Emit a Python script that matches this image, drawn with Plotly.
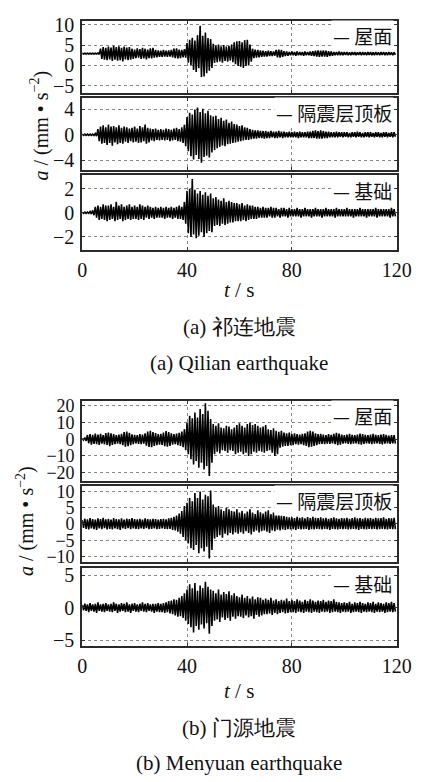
import plotly.graph_objects as go

# ---------------------------------------------------------------------------
# Peak acceleration per 1-s bin (mm/s^2): positive peak then negative peak,
# relative to each record's baseline. Time axis 0-120 s.
# ---------------------------------------------------------------------------
seconds = list(range(120))

# (a) Qilian earthquake
qilian_roof_base = 2.9
qilian_roof_up = [
    0.1, 0.1, 0.1, 0.1, 0.1, 0.1, 0.2, 1.2, 1.6, 1.4,
    1.7, 1.5, 1.9, 1.6, 1.8, 1.4, 1.7, 1.5, 1.6, 1.2,
    1.0, 1.3, 1.1, 1.4, 1.2, 1.0, 1.3, 1.4, 0.9, 0.8,
    0.7, 0.9, 0.7, 0.8, 0.9, 1.2, 1.3, 1.0, 0.9, 1.1,
    2.6, 3.4, 3.9, 3.2, 4.5, 6.8, 4.4, 5.2, 3.8, 3.6,
    2.4, 2.0, 2.2, 1.8, 2.1, 1.7, 1.9, 2.2, 2.8, 3.0,
    3.1, 2.8, 3.3, 3.4, 2.2, 1.2, 1.0, 0.9, 0.8, 0.7,
    0.6, 0.7, 0.6, 0.5, 0.9, 1.0, 0.9, 0.6, 0.5, 0.4,
    0.5, 0.4, 0.5, 0.4, 0.4, 0.5, 0.4, 0.5, 0.6, 0.7,
    0.8, 0.7, 0.8, 0.7, 0.6, 0.5, 0.4, 0.4, 0.5, 0.4,
    0.4, 0.4, 0.3, 0.4, 0.4, 0.3, 0.4, 0.4, 0.3, 0.4,
    0.4, 0.3, 0.4, 0.3, 0.4, 0.4, 0.3, 0.4, 0.3, 0.3,
]
qilian_roof_down = [
    -0.1, -0.1, -0.1, -0.1, -0.1, -0.1, -0.2, -1.3, -1.5, -1.6,
    -1.4, -1.8, -1.5, -1.7, -1.6, -1.9, -1.4, -1.6, -1.5, -1.3,
    -1.1, -1.0, -1.3, -1.2, -1.4, -1.1, -1.2, -1.0, -0.9, -0.8,
    -0.8, -0.7, -0.8, -0.7, -0.9, -1.1, -1.2, -1.1, -0.9, -1.0,
    -2.2, -2.8, -4.0, -4.5, -3.6, -5.7, -5.6, -4.8, -4.2, -3.5,
    -2.3, -2.1, -1.9, -2.2, -1.8, -2.0, -1.7, -2.1, -2.6, -3.0,
    -3.2, -3.5, -3.0, -2.9, -2.0, -1.1, -1.0, -0.9, -0.8, -0.7,
    -0.7, -0.6, -0.6, -0.5, -0.9, -1.0, -0.8, -0.6, -0.5, -0.4,
    -0.4, -0.5, -0.4, -0.4, -0.5, -0.4, -0.4, -0.5, -0.6, -0.7,
    -0.8, -0.7, -0.7, -0.8, -0.6, -0.5, -0.4, -0.4, -0.4, -0.4,
    -0.3, -0.4, -0.4, -0.3, -0.4, -0.3, -0.4, -0.3, -0.4, -0.3,
    -0.4, -0.4, -0.3, -0.4, -0.3, -0.4, -0.4, -0.3, -0.4, -0.3,
]

qilian_isol_base = 0.0
qilian_isol_up = [
    0.1, 0.1, 0.1, 0.1, 0.1, 0.2, 0.9, 1.3, 1.5, 1.2,
    1.6, 1.3, 1.4, 1.2, 1.5, 1.1, 1.3, 1.2, 1.0, 1.1,
    1.3, 1.0, 1.4, 1.2, 1.6, 1.1, 1.0, 0.9, 1.0, 0.8,
    0.9, 0.8, 1.0, 0.9, 0.8, 1.0, 1.1, 0.9, 1.2, 1.6,
    2.8, 3.5, 3.2, 4.0, 4.3, 3.6, 4.1, 3.4, 3.8, 3.1,
    2.9, 3.0, 2.5, 2.7, 2.2, 2.4, 1.9, 2.1, 1.7, 1.6,
    1.4, 1.5, 1.2, 1.1, 0.9, 0.8, 0.7, 0.7, 0.6, 0.6,
    0.6, 0.5, 0.6, 0.5, 0.5, 0.6, 0.5, 0.5, 0.4, 0.5,
    0.4, 0.5, 0.4, 0.5, 0.4, 0.4, 0.5, 0.5, 0.6, 0.7,
    0.6, 0.7, 0.6, 0.5, 0.5, 0.4, 0.4, 0.5, 0.4, 0.4,
    0.4, 0.4, 0.3, 0.4, 0.4, 0.5, 0.4, 0.3, 0.4, 0.4,
    0.4, 0.3, 0.4, 0.4, 0.3, 0.4, 0.4, 0.3, 0.4, 0.4,
]
qilian_isol_down = [
    -0.1, -0.1, -0.1, -0.1, -0.1, -0.2, -1.0, -1.4, -1.3, -1.6,
    -1.3, -1.7, -1.2, -1.5, -1.3, -1.4, -1.1, -1.3, -1.0, -1.2,
    -1.1, -1.3, -1.2, -1.0, -1.4, -1.2, -0.9, -1.0, -0.8, -0.9,
    -0.8, -0.9, -0.8, -1.0, -0.9, -0.8, -1.0, -1.1, -1.3, -1.8,
    -2.6, -3.4, -3.9, -3.2, -3.8, -4.4, -3.5, -3.3, -3.6, -2.8,
    -2.4, -2.1, -1.9, -1.7, -1.8, -1.5, -1.4, -1.3, -1.2, -1.1,
    -1.0, -0.9, -0.8, -0.8, -0.7, -0.6, -0.6, -0.5, -0.5, -0.6,
    -0.5, -0.5, -0.4, -0.5, -0.5, -0.4, -0.5, -0.4, -0.4, -0.4,
    -0.4, -0.4, -0.5, -0.4, -0.4, -0.4, -0.5, -0.5, -0.5, -0.6,
    -0.6, -0.6, -0.5, -0.5, -0.4, -0.4, -0.4, -0.4, -0.3, -0.4,
    -0.3, -0.4, -0.4, -0.3, -0.4, -0.3, -0.4, -0.4, -0.3, -0.4,
    -0.3, -0.4, -0.3, -0.4, -0.4, -0.3, -0.4, -0.3, -0.4, -0.3,
]

qilian_base_base = 0.0
qilian_base_up = [
    0.05, 0.05, 0.05, 0.1, 0.2, 0.5, 0.6, 0.5, 0.7, 0.6,
    0.6, 0.7, 0.5, 0.9, 0.6, 0.7, 0.5, 0.6, 0.7, 0.5,
    0.6, 0.5, 0.7, 0.6, 0.5, 0.6, 0.5, 0.4, 0.5, 0.4,
    0.5, 0.4, 0.5, 0.4, 0.5, 0.4, 0.5, 0.6, 0.5, 0.9,
    1.8, 2.0, 2.8, 1.9, 1.6, 1.8, 1.5, 1.7, 1.4, 1.6,
    1.2, 1.3, 1.1, 1.0, 1.2, 0.9, 1.0, 0.9, 0.8, 0.8,
    0.7, 0.8, 0.6, 0.7, 0.6, 0.6, 0.5, 0.5, 0.4, 0.5,
    0.4, 0.4, 0.5, 0.4, 0.4, 0.3, 0.4, 0.4, 0.3, 0.4,
    0.3, 0.3, 0.4, 0.3, 0.3, 0.4, 0.3, 0.3, 0.3, 0.4,
    0.3, 0.3, 0.3, 0.4, 0.3, 0.3, 0.3, 0.4, 0.3, 0.3,
    0.3, 0.4, 0.3, 0.3, 0.3, 0.3, 0.4, 0.3, 0.3, 0.3,
    0.3, 0.3, 0.4, 0.3, 0.3, 0.3, 0.3, 0.3, 0.4, 0.3,
]
qilian_base_down = [
    -0.05, -0.05, -0.05, -0.1, -0.2, -0.4, -0.6, -0.5, -0.6, -0.7,
    -0.6, -0.5, -0.7, -0.6, -0.5, -0.7, -0.6, -0.5, -0.6, -0.5,
    -0.5, -0.6, -0.5, -0.6, -0.4, -0.5, -0.4, -0.5, -0.4, -0.4,
    -0.4, -0.5, -0.4, -0.4, -0.5, -0.4, -0.5, -0.5, -0.6, -0.9,
    -1.7, -2.0, -1.8, -2.1, -1.9, -1.6, -2.0, -1.7, -1.5, -1.6,
    -1.1, -1.0, -1.1, -0.9, -1.0, -0.9, -0.8, -0.8, -0.7, -0.7,
    -0.7, -0.6, -0.7, -0.6, -0.5, -0.5, -0.5, -0.4, -0.4, -0.4,
    -0.4, -0.3, -0.4, -0.4, -0.3, -0.4, -0.3, -0.3, -0.4, -0.3,
    -0.3, -0.3, -0.3, -0.4, -0.3, -0.3, -0.3, -0.4, -0.3, -0.3,
    -0.3, -0.4, -0.3, -0.3, -0.3, -0.3, -0.4, -0.3, -0.3, -0.3,
    -0.3, -0.3, -0.3, -0.4, -0.3, -0.3, -0.3, -0.3, -0.4, -0.3,
    -0.3, -0.3, -0.4, -0.3, -0.3, -0.3, -0.3, -0.4, -0.3, -0.3,
]

# (b) Menyuan earthquake
menyuan_roof_base = 0.0
menyuan_roof_up = [
    0.5, 1.0, 2.5, 3.0, 2.6, 3.4, 2.8, 3.2, 2.4, 3.6,
    4.0, 3.5, 3.0, 2.5, 2.8, 3.2, 4.2, 4.6, 3.8, 2.9,
    2.6, 2.4, 3.0, 2.8, 3.5, 4.5, 5.0, 4.2, 3.6, 3.0,
    3.2, 4.0, 4.8, 4.2, 3.5, 3.0, 3.4, 3.8, 4.6, 6.0,
    10.0, 14.0, 12.5, 16.0, 13.0, 18.0, 15.0, 21.5, 17.0, 12.0,
    9.0, 8.0, 9.5, 7.0, 6.5, 8.0, 7.5, 6.0, 7.0, 8.5,
    9.5, 8.0, 7.0, 9.0, 10.0, 8.5, 9.0, 8.0, 7.0, 7.5,
    8.5, 6.0, 5.5, 6.5, 5.0, 4.5, 5.0, 4.0, 3.5, 4.0,
    3.0, 3.5, 3.0, 2.8, 3.2, 3.5, 4.5, 5.0, 4.5, 3.5,
    3.0, 3.2, 2.8, 2.5, 3.0, 2.6, 3.2, 3.8, 3.4, 2.8,
    2.5, 2.8, 3.2, 2.6, 2.4, 2.8, 3.4, 3.0, 2.6, 2.4,
    2.8, 3.2, 2.6, 2.4, 2.8, 3.0, 2.6, 2.2, 2.4, 2.5,
]
menyuan_roof_down = [
    -0.5, -1.0, -2.4, -3.2, -2.8, -3.0, -3.4, -2.6, -3.0, -3.4,
    -4.2, -3.4, -3.0, -2.6, -3.0, -3.5, -4.4, -4.2, -3.6, -3.0,
    -2.5, -2.8, -3.0, -2.6, -3.8, -4.6, -4.8, -4.0, -3.5, -3.2,
    -3.4, -4.2, -4.4, -4.0, -3.2, -3.0, -3.6, -4.0, -4.8, -6.5,
    -9.0, -12.0, -15.0, -13.0, -17.0, -14.0, -18.0, -16.0, -22.0, -14.0,
    -9.0, -7.5, -8.5, -6.5, -7.0, -8.0, -6.5, -7.0, -9.0, -8.0,
    -7.5, -9.0, -8.0, -10.0, -9.0, -7.5, -8.0, -7.0, -7.5, -8.0,
    -7.0, -6.5, -8.0, -10.0, -9.0, -5.0, -4.5, -4.0, -4.0, -3.5,
    -3.5, -3.0, -3.2, -3.0, -3.5, -4.0, -4.8, -4.5, -4.0, -3.5,
    -3.0, -2.8, -3.0, -2.6, -2.8, -2.5, -3.0, -3.5, -3.2, -2.6,
    -2.4, -2.8, -3.0, -2.6, -2.5, -3.0, -3.2, -2.8, -2.5, -2.6,
    -3.0, -2.7, -2.4, -2.8, -3.1, -2.6, -2.4, -2.8, -2.5, -2.6,
]

menyuan_isol_base = 0.0
menyuan_isol_up = [
    1.2, 1.6, 1.4, 1.8, 1.5, 1.3, 1.7, 1.5, 1.9, 1.4,
    1.6, 1.3, 1.8, 1.5, 1.4, 1.7, 1.3, 1.6, 1.5, 1.8,
    1.5, 1.4, 1.6, 1.3, 1.7, 1.5, 1.4, 1.6, 1.5, 1.3,
    1.5, 1.6, 1.4, 1.7, 1.9, 2.2, 2.6, 3.2, 4.0, 5.5,
    6.5, 8.0, 7.0, 9.5, 8.0, 10.0, 7.5, 9.0, 8.5, 10.3,
    6.0, 5.0, 5.5, 4.5, 4.0, 5.0, 4.5, 4.0, 3.8, 4.5,
    3.5, 4.0, 3.2, 3.8, 4.5, 3.5, 3.0, 4.2, 3.6, 3.2,
    3.8, 4.2, 3.0, 3.5, 2.8, 3.2, 2.6, 2.4, 2.2, 2.0,
    2.0, 1.8, 2.2, 1.9, 2.0, 1.7, 2.1, 1.8, 2.2, 1.9,
    1.8, 2.0, 1.7, 1.9, 1.6, 1.8, 2.0, 1.7, 1.6, 1.8,
    1.7, 1.9, 1.6, 1.8, 2.0, 1.7, 1.8, 1.6, 1.9, 1.7,
    1.8, 1.6, 1.9, 1.7, 1.8, 2.0, 1.6, 1.8, 1.7, 1.9,
]
menyuan_isol_down = [
    -1.2, -1.5, -1.7, -1.4, -1.6, -1.8, -1.4, -1.6, -1.3, -1.7,
    -1.5, -1.7, -1.4, -1.6, -1.8, -1.4, -1.5, -1.3, -1.6, -1.4,
    -1.5, -1.6, -1.4, -1.5, -1.3, -1.6, -1.5, -1.4, -1.6, -1.5,
    -1.4, -1.5, -1.6, -1.5, -1.8, -2.0, -2.4, -3.0, -4.0, -5.0,
    -6.0, -7.5, -8.0, -6.5, -9.0, -7.5, -8.5, -7.0, -10.6, -8.0,
    -4.5, -4.0, -3.5, -4.2, -3.0, -3.5, -2.8, -3.2, -2.6, -3.0,
    -2.5, -3.0, -2.2, -2.8, -3.2, -2.4, -2.0, -2.6, -2.2, -2.0,
    -2.4, -2.8, -2.0, -2.2, -1.8, -2.0, -1.7, -1.8, -1.6, -1.7,
    -1.6, -1.8, -1.5, -1.7, -1.6, -1.5, -1.8, -1.6, -1.7, -1.5,
    -1.6, -1.7, -1.5, -1.6, -1.8, -1.5, -1.6, -1.7, -1.5, -1.6,
    -1.5, -1.7, -1.6, -1.5, -1.6, -1.8, -1.5, -1.6, -1.7, -1.5,
    -1.6, -1.5, -1.7, -1.6, -1.5, -1.6, -1.7, -1.5, -1.6, -1.6,
]

menyuan_base_base = 0.0
menyuan_base_up = [
    0.4, 0.6, 0.5, 0.7, 0.5, 0.6, 0.8, 0.5, 0.6, 0.7,
    0.5, 0.6, 0.8, 0.6, 0.5, 0.7, 0.6, 0.8, 0.5, 0.6,
    0.7, 0.5, 0.6, 0.8, 0.6, 0.7, 0.5, 0.6, 0.6, 0.7,
    0.6, 0.7, 0.8, 1.0, 1.1, 1.3, 1.2, 1.5, 1.8, 2.2,
    2.8, 3.6, 3.0, 3.8, 2.6, 3.4, 3.0, 4.0, 3.2, 2.8,
    2.6, 2.2, 2.8, 2.0, 2.4, 2.1, 2.5, 1.9, 2.2, 1.8,
    1.6, 2.0, 1.5, 1.8, 1.4, 1.7, 1.3, 1.6, 1.5, 1.2,
    1.4, 1.2, 1.5, 1.1, 1.3, 1.0, 1.2, 1.1, 1.4, 1.0,
    1.2, 1.0, 1.3, 1.1, 0.9, 1.2, 1.0, 1.3, 1.1, 0.9,
    1.1, 1.0, 1.2, 0.9, 1.1, 1.0, 1.3, 0.9, 0.8, 0.7,
    0.8, 0.7, 0.9, 0.6, 0.8, 0.7, 0.9, 0.7, 0.6, 0.8,
    0.7, 0.9, 0.6, 0.8, 0.7, 0.6, 0.8, 0.7, 0.9, 0.7,
]
menyuan_base_down = [
    -0.4, -0.5, -0.7, -0.5, -0.6, -0.8, -0.5, -0.6, -0.7, -0.5,
    -0.6, -0.7, -0.5, -0.8, -0.6, -0.5, -0.7, -0.6, -0.8, -0.5,
    -0.6, -0.7, -0.5, -0.6, -0.7, -0.5, -0.6, -0.8, -0.6, -0.7,
    -0.7, -0.8, -0.7, -0.9, -1.0, -1.2, -1.4, -1.3, -1.6, -2.0,
    -2.5, -3.0, -3.8, -2.8, -3.4, -2.6, -3.2, -2.4, -4.0, -2.8,
    -2.0, -1.8, -2.2, -1.5, -1.9, -1.6, -2.0, -1.4, -1.7, -1.3,
    -1.4, -1.6, -1.2, -1.5, -1.3, -1.7, -1.1, -1.4, -1.2, -1.0,
    -1.0, -0.9, -1.1, -0.8, -1.0, -0.8, -0.7, -0.9, -0.8, -0.7,
    -0.7, -0.8, -0.6, -0.7, -0.8, -0.6, -0.7, -0.8, -0.6, -0.7,
    -0.8, -0.6, -0.7, -0.6, -0.8, -0.7, -0.6, -0.7, -0.8, -0.6,
    -0.7, -0.6, -0.8, -0.7, -0.6, -0.7, -0.8, -0.6, -0.7, -0.6,
    -0.7, -0.8, -0.6, -0.7, -0.6, -0.8, -0.7, -0.6, -0.7, -0.6,
]

legend_names = ["屋面", "隔震层顶板", "基础"]
x_ticks = [0, 40, 80, 120]

# per-panel settings: (up, down, baseline, y range, y ticks, tick font size, legend)
records = [
    (qilian_roof_up, qilian_roof_down, qilian_roof_base, [-6.67, 10.95], [-5, 0, 5, 10], 20, legend_names[0]),
    (qilian_isol_up, qilian_isol_down, qilian_isol_base, [-5.63, 5.88], [-4, 0, 4], 20, legend_names[1]),
    (qilian_base_up, qilian_base_down, qilian_base_base, [-3.1, 3.1], [-2, 0, 2], 20, legend_names[2]),
    (menyuan_roof_up, menyuan_roof_down, menyuan_roof_base, [-24.7, 22.9], [-20, -10, 0, 10, 20], 18, legend_names[0]),
    (menyuan_isol_up, menyuan_isol_down, menyuan_isol_base, [-11.8, 11.8], [-10, -5, 0, 5, 10], 18, legend_names[1]),
    (menyuan_base_up, menyuan_base_down, menyuan_base_base, [-5.9, 6.06], [-5, 0, 5], 20, legend_names[2]),
]

# ---------------------------------------------------------------------------
# Layout geometry (pixels in a 426 x 782 page)
# ---------------------------------------------------------------------------
W, H = 426, 782
PLOT_LEFT, PLOT_RIGHT = 81, 411
panel_px = [(14, 87), (92, 166), (171, 247), (400, 481), (486, 564), (570, 649)]


def px_x(v):
    return v / W


def px_y(v):
    return 1 - v / H


SERIF = "Liberation Serif"
CJK = "Noto Sans CJK SC"
INK = "#111111"

fig = go.Figure()

for k, (up, down, base, yr, yt, tsize, name) in enumerate(records, start=1):
    xs, ys = [], []
    for t, hi, lo in zip(seconds, up, down):
        xs += [t, t + 0.5]
        ys += [base + hi, base + lo]
    suffix = "" if k == 1 else str(k)
    fig.add_trace(go.Scatter(
        x=xs, y=ys, mode="lines", line=dict(color="black", width=1.6),
        xaxis="x" + suffix, yaxis="y" + suffix, showlegend=False,
        hoverinfo="skip",
    ))
    top, bottom = panel_px[k - 1]
    show_x = k in (3, 6)
    axis_common = dict(
        showline=True, linecolor="#2a2a2a", linewidth=2, mirror="ticks",
        ticks="inside", ticklen=3, tickcolor="#333", tickwidth=1,
        showgrid=True, gridcolor="#888", gridwidth=1, griddash="dot",
        zeroline=False, fixedrange=True,
    )
    fig.update_layout({
        "xaxis" + suffix: dict(
            axis_common, domain=[px_x(PLOT_LEFT), px_x(PLOT_RIGHT)],
            range=[0, 120], tickvals=x_ticks, showticklabels=show_x,
            anchor="y" + suffix, ticklabelstandoff=1,
            tickfont=dict(family=SERIF, size=20, color=INK),
        ),
        "yaxis" + suffix: dict(
            axis_common, domain=[px_y(bottom), px_y(top)],
            range=yr, tickvals=yt, anchor="x" + suffix,
            ticklabelstandoff=2,
            tickfont=dict(family=SERIF, size=tsize, color=INK),
        ),
    })
    # legend entry: a short line sample followed by the record name
    fig.add_annotation(
        x=px_x(PLOT_RIGHT - 3), y=px_y(top + 15), xref="paper", yref="paper",
        xanchor="right", yanchor="middle", showarrow=False,
        text="— " + name, bgcolor="white", borderpad=1,
        font=dict(family=CJK, size=19, color=INK),
    )

# axis titles and captions
y_title = "<i>a</i> / (mm • s<sup>−2</sup>)"
for xc, yc in ((36, 120), (22, 522)):
    fig.add_annotation(
        x=px_x(xc), y=px_y(yc), xref="paper", yref="paper", textangle=-90,
        xanchor="center", yanchor="middle",
        showarrow=False, text=y_title, font=dict(family=SERIF, size=20, color=INK),
    )

captions = [
    (287, "<i>t</i> / s", SERIF, 21),
    (325, "(a) 祁连地震", SERIF, 21),
    (362, "(a) Qilian earthquake", SERIF, 21),
    (695, "<i>t</i> / s", SERIF, 21),
    (732, "(b) 门源地震", SERIF, 21),
    (768, "(b) Menyuan earthquake", SERIF, 21),
]
for yc, txt, fam, size in captions:
    fig.add_annotation(
        x=px_x((PLOT_LEFT + PLOT_RIGHT) / 2), y=px_y(yc), xref="paper", yref="paper",
        xanchor="center", yanchor="middle",
        showarrow=False, text=txt, font=dict(family=fam, size=size, color=INK),
    )

fig.update_layout(
    width=W, height=H, margin=dict(l=0, r=0, t=0, b=0),
    paper_bgcolor="white", plot_bgcolor="white", showlegend=False,
)

fig.write_html("out.html")
